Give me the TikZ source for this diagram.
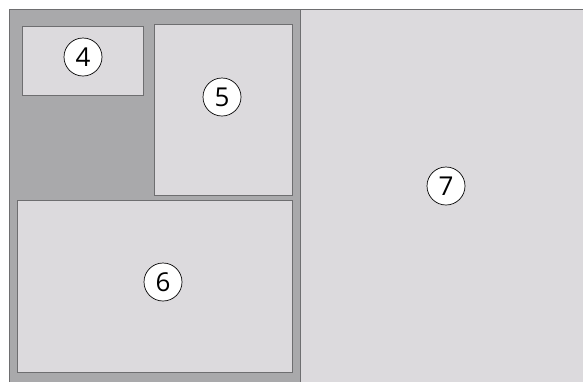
\documentclass[tikz,border=0pt]{standalone}
\usepackage{fontspec}
\setmainfont{Open Sans}
\definecolor{darkpanel}{HTML}{A9A9AB}
\definecolor{lightbox}{HTML}{DCDADD}
\definecolor{edge}{HTML}{6E6E70}
\begin{document}
\begin{tikzpicture}[x=1pt,y=-1pt,
  panel/.style={fill=darkpanel,draw=edge,line width=1pt},
  zone/.style={fill=lightbox,draw=edge,line width=1pt},
  num/.style={circle,draw=black,fill=white,line width=0.7pt,minimum size=38pt,inner sep=0pt,font=\fontsize{26}{26}\selectfont}]
\useasboundingbox (0,0) rectangle (583,381);
\fill[white] (0,0) rectangle (583,381);
\draw[panel] (9,9) rectangle (300,390);
\draw[zone] (300,9) rectangle (590,390);
\draw[zone] (22,26) rectangle (143,95);
\draw[zone] (154,24) rectangle (292,195);
\draw[zone] (17,200) rectangle (292,372);
\node[num] (n4) at (83,57) {4};
\node[num] (n5) at (222,97) {5};
\node[num] (n6) at (163,282) {6};
\node[num] (n7) at (446,186) {7};
\end{tikzpicture}
\end{document}
